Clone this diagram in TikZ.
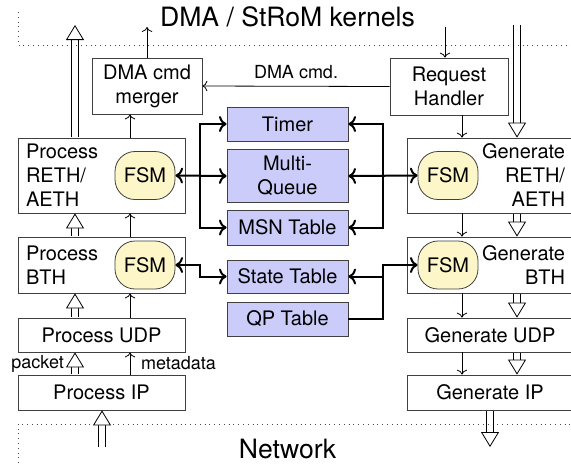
\documentclass[tikz,border=0pt]{standalone}
\usepackage{fontspec}
\setmainfont{TeX Gyre Heros}
\usetikzlibrary{arrows.meta,positioning}
\definecolor{fsmcol}{RGB}{252,246,200}
\definecolor{tabcol}{RGB}{204,204,250}

\begin{document}
\begin{tikzpicture}[x=0.5pt,y=-0.5pt,on grid,>=To,
    blk/.style={draw=black!75,inner xsep=4pt,inner ysep=2pt},
    lblk/.style={blk,text width=75.5pt,align=left},
    rblk/.style={blk,text width=75pt,align=right},
    cblk/.style={blk,align=center},
    tbl/.style={draw=black!75,fill=tabcol,minimum width=60.5pt,align=center},
    fsm/.style={draw=black!75,fill=fsmcol,rounded corners=10pt,minimum width=30pt,minimum height=24pt,inner sep=1pt},
    bus/.style={line width=1pt},
    hollow/.style={draw=white,shorten <=0.2pt,-{Triangle[open,color=black,fill=white,length=7.5pt,width=9pt]},
        preaction={draw=black,-,shorten >=7pt,transform canvas={xshift=1.9pt}},
        preaction={draw=black,-,shorten >=7pt,transform canvas={xshift=-1.9pt}}},
    small/.style={font=\fontsize{9}{10}\selectfont},
    sep/.style={dotted,black!70}]
    \useasboundingbox (0,0) rectangle (571,463);

    \node[font=\fontsize{13.3}{16}\selectfont,anchor=base] (dma) at (287.5,26) {DMA / StRoM kernels};
    \node[font=\fontsize{13.3}{16}\selectfont,anchor=base] (net) at (287.5,458) {Network};
    \draw[sep] (18,12) |- (571,45);
    \draw[sep] (18,463) |- (571,424);

    \node[cblk,minimum width=55pt,minimum height=28pt] (merger) at (147,86) {DMA cmd\\merger};
    \node[cblk,minimum width=59pt,minimum height=28.5pt] (handler) at (449,86.5) {Request\\Handler};

    \node[lblk,minimum height=37.5pt] (pReth) at (101.5,175.5) {Process\\RETH/\\AETH};
    \node[lblk,minimum height=28pt] (pBth) [below=44.75pt of pReth] {Process\\BTH};
    \node[cblk,minimum width=83.5pt,minimum height=17pt] (pUdp) [below=35pt of pBth] {Process UDP};
    \node[cblk,minimum width=83.5pt,minimum height=17.5pt] (pIp) [below=28.75pt of pUdp] {Process IP};
    \node[fsm] (fsmL1) [right=21.75pt of pReth] {FSM};
    \node[fsm] (fsmL2) [right=21.75pt of pBth] {FSM};

    \node[rblk,minimum height=37.5pt] (gReth) at (490,175.5) {Generate\\RETH/\\AETH};
    \node[rblk,minimum height=28pt] (gBth) [below=44.75pt of gReth] {Generate\\BTH};
    \node[cblk,minimum width=83pt,minimum height=17pt] (gUdp) [below=35pt of gBth] {Generate UDP};
    \node[cblk,minimum width=83pt,minimum height=17.5pt] (gIp) [below=28.75pt of gUdp] {Generate IP};
    \node[fsm] (fsmR1) [left=21pt of gReth] {FSM};
    \node[fsm] (fsmR2) [left=21pt of gBth] {FSM};

    \node[tbl,minimum height=17pt] (timer) at (287.5,124) {Timer};
    \node[tbl,minimum height=26pt] (mq) [below=26pt of timer] {Multi-\\Queue};
    \node[tbl,minimum height=17.5pt] (msn) [below=25.75pt of mq] {MSN Table};
    \node[tbl,minimum height=16.5pt] (state) [below=24.5pt of msn] {State Table};
    \node[tbl,minimum height=17pt] (qp) [below=21.25pt of state] {QP Table};

    \coordinate (lh) at (75,0);
    \coordinate (lt) at (130,0);
    \coordinate (rt) at (462,0);
    \coordinate (rh) at (517,0);
    \coordinate (busL) at (200,0);
    \coordinate (busR) at (383,0);
    \coordinate (toDma) at (75,25);
    \coordinate (fromDma) at (517,25);
    \coordinate (cmdOut) at (147,27);
    \coordinate (cmdIn) at (445,27);
    \coordinate (fromNet) at (102,447);
    \coordinate (toNet) at (490,447);

    \draw[->] (merger.north -| cmdOut) -- (cmdOut);
    \draw[->] (cmdIn) -- (handler.north -| cmdIn);
    \draw[->] (handler.west) -- node[small,above] {DMA cmd.} (merger.east);
    \draw[->] (pReth.north -| lt) -- (merger.south -| lt);
    \draw[->] (pBth.north -| lt) -- (pReth.south -| lt);
    \draw[->] (pUdp.north -| lt) -- (pBth.south -| lt);
    \draw[->] (pIp.north -| lt) -- node[small,right=2pt] {metadata} (pUdp.south -| lt);
    \draw[->] (handler.south -| rt) -- (gReth.north -| rt);
    \draw[->] (gReth.south -| rt) -- (gBth.north -| rt);
    \draw[->] (gBth.south -| rt) -- (gUdp.north -| rt);
    \draw[->] (gUdp.south -| rt) -- (gIp.north -| rt);

    \draw[hollow] (pReth.north -| lh) -- (toDma);
    \draw[hollow] (pBth.north -| lh) -- (pReth.south -| lh);
    \draw[hollow] (pUdp.north -| lh) -- (pBth.south -| lh);
    \draw[hollow] (pIp.north -| lh) -- node[small,left=2pt] {packet} (pUdp.south -| lh);
    \draw[hollow] (fromNet) -- (pIp.south -| fromNet);
    \draw[hollow] (fromDma) -- (gReth.north -| rh);
    \draw[hollow] (gReth.south -| rh) -- (gBth.north -| rh);
    \draw[hollow] (gBth.south -| rh) -- (gUdp.north -| rh);
    \draw[hollow] (gUdp.south -| rh) -- (gIp.north -| rh);
    \draw[hollow] (gIp.south -| toNet) -- (toNet);

    \draw[bus,<->] (fsmL1.east) -- (mq.west);
    \draw[bus,->] (busL |- mq.west) |- (timer.west);
    \draw[bus,->] (busL |- mq.west) |- (msn.west);
    \draw[bus,<->] (fsmL2.east) -- (busL |- fsmL2.east) |- (state.west);
    \draw[bus,<->] (mq.east) -- (fsmR1.west);
    \draw[bus,->] (busR |- mq.east) |- (timer.east);
    \draw[bus,->] (busR |- mq.east) |- (msn.east);
    \draw[bus,->] (qp.east) -| (busR |- fsmR2.west) -- (fsmR2.west);
    \draw[bus,->] (busR |- state.east) -- (state.east);
\end{tikzpicture}
\end{document}
